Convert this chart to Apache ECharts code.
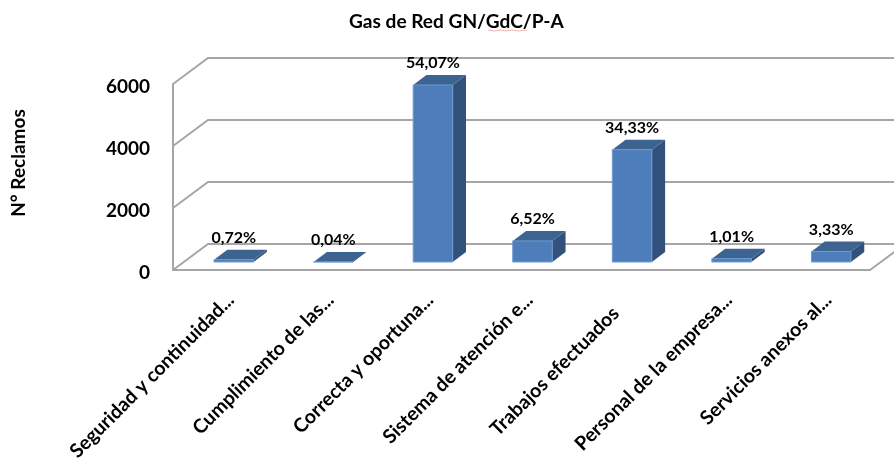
<!DOCTYPE html>
<html>
<head>
<meta charset="utf-8">
<style>
html, body { margin: 0; padding: 0; background: #fff; }
.chart { width: 894px; height: 458px; }
</style>
</head>
<body>
<div class="chart"></div>
<script src="https://cdn.jsdelivr.net/npm/echarts@6/dist/echarts.min.js"></script>
<script>
// 分类、数值、百分比标签
var categories = [
    'Seguridad y continuidad...',
    'Cumplimiento de las...',
    'Correcta y oportuna...',
    'Sistema de atención e...',
    'Trabajos efectuados',
    'Personal de la empresa...',
    'Servicios anexos al...'
];
var reclamos = [76, 4, 5710, 680, 3625, 107, 340];
var percents = ['0,72%', '0,04%', '54,07%', '6,52%', '34,33%', '1,01%', '3,33%'];
var yTicks = [0, 2000, 4000, 6000];

var fontName = 'Lato';

// 柱子的 3D 偏移
var barDepth = [13.3, -10];
var wallDepth = [35, -26];

// 墙面和地面的网格线
function renderWall(params, api) {
    var p = api.coord([0, api.value(1)]);
    var box = params.coordSys;
    var style = { stroke: '#a6a6a6', lineWidth: 2, fill: null };
    var children = [{
        type: 'polyline',
        shape: { points: [
            [box.x, p[1]],
            [box.x + wallDepth[0], p[1] + wallDepth[1]],
            [box.x + box.width + wallDepth[0], p[1] + wallDepth[1]]
        ] },
        style: style
    }];
    if (api.value(1) === 0) {
        children.push({
            type: 'line',
            shape: { x1: box.x + box.width, y1: p[1], x2: box.x + box.width + wallDepth[0], y2: p[1] + wallDepth[1] },
            style: style
        });
    }
    return { type: 'group', children: children };
}

// 3D 柱子：正面、顶面、侧面
function renderBar(params, api) {
    var top = api.coord([api.value(0), api.value(1)]);
    var base = api.coord([api.value(0), 0]);
    var w = api.size([1, 0])[0] * 0.397;
    var l = top[0] - w / 2;
    var r = top[0] + w / 2;
    var dx = barDepth[0];
    var dy = barDepth[1];
    return {
        type: 'group',
        children: [{
            type: 'polygon',
            shape: { points: [[r, top[1]], [r + dx, top[1] + dy], [r + dx, base[1] + dy], [r, base[1]]] },
            style: { fill: '#32527b' }
        }, {
            type: 'polygon',
            shape: { points: [[l, top[1]], [l + dx, top[1] + dy], [r + dx, top[1] + dy], [r, top[1]]] },
            style: { fill: '#3d6391' }
        }, {
            type: 'rect',
            shape: { x: l, y: top[1], width: w, height: base[1] - top[1] },
            style: { fill: '#4d7ebb', stroke: '#6f9bd1', lineWidth: 1 }
        }, {
            type: 'text',
            x: top[0],
            y: top[1] + dy - 12,
            style: {
                text: percents[params.dataIndex],
                fill: '#000',
                font: 'bold 16px ' + fontName,
                textAlign: 'center',
                textVerticalAlign: 'middle'
            }
        }]
    };
}

var myChart = echarts.init(document.querySelector('.chart'));

var option = {
    animation: false,
    title: {
        text: 'Gas de Red GN/GdC/P-A',
        left: 349,
        top: 12,
        padding: 0,
        textStyle: { color: '#000', fontFamily: fontName, fontSize: 19.1, fontWeight: 'bold' }
    },
    graphic: [{
        type: 'text',
        x: 19,
        y: 163,
        rotation: Math.PI / 2,
        style: {
            text: 'N° Reclamos',
            fill: '#000',
            font: 'bold 19px ' + fontName,
            textAlign: 'center',
            textVerticalAlign: 'middle'
        }
    }, {
        // 标题下的红色拼写波浪线
        type: 'polyline',
        shape: { points: [[488, 30], [494, 31], [500, 30], [506, 31], [512, 30], [518, 31], [527, 30]] },
        style: { stroke: '#e9b4b4', lineWidth: 1, fill: null }
    }],
    // 第一个 grid 是前平面（墙、y 轴），第二个是柱子所在平面
    grid: [
        { left: 173, width: 697, top: 84, height: 186, outerBoundsMode: 'none' },
        { left: 184, width: 697, top: 76, height: 186, outerBoundsMode: 'none' }
    ],
    xAxis: [{
        type: 'category',
        gridIndex: 0,
        data: categories,
        axisLine: { lineStyle: { color: '#a6a6a6', width: 2 } },
        axisTick: { show: false },
        axisLabel: { show: false }
    }, {
        type: 'category',
        gridIndex: 1,
        data: categories,
        axisLine: { show: false },
        axisTick: { show: false },
        axisLabel: {
            interval: 0,
            rotate: 45,
            margin: 32,
            padding: [0, 4, 0, 0],
            color: '#000',
            fontFamily: fontName,
            fontWeight: 'bold',
            fontSize: 19.5,
            // 没有省略号的标签在原图里更靠下
            formatter: function (v) {
                return v.slice(-3) === '...' ? v : v + '\u00a0\u00a0\u00a0\u00a0';
            }
        }
    }],
    yAxis: [{
        type: 'value',
        gridIndex: 0,
        min: 0,
        max: 6000,
        interval: 2000,
        splitLine: { show: false },
        axisTick: { show: false },
        axisLine: { show: true, lineStyle: { color: '#a6a6a6', width: 2 } },
        axisLabel: {
            margin: 23,
            color: '#000',
            fontFamily: fontName,
            fontWeight: 'bold',
            fontSize: 19,
            verticalAlign: 'top',
            lineHeight: 6,
            formatter: function (v) { return String(v); }
        }
    }, {
        type: 'value',
        gridIndex: 1,
        min: 0,
        max: 6000,
        interval: 2000,
        show: false
    }],
    series: [{
        type: 'custom',
        xAxisIndex: 0,
        yAxisIndex: 0,
        clip: false,
        renderItem: renderWall,
        data: yTicks.map(function (t) { return [0, t]; })
    }, {
        type: 'custom',
        xAxisIndex: 1,
        yAxisIndex: 1,
        clip: false,
        renderItem: renderBar,
        data: reclamos.map(function (v, i) { return [i, v]; })
    }]
};

myChart.setOption(option);
</script>
</body>
</html>
